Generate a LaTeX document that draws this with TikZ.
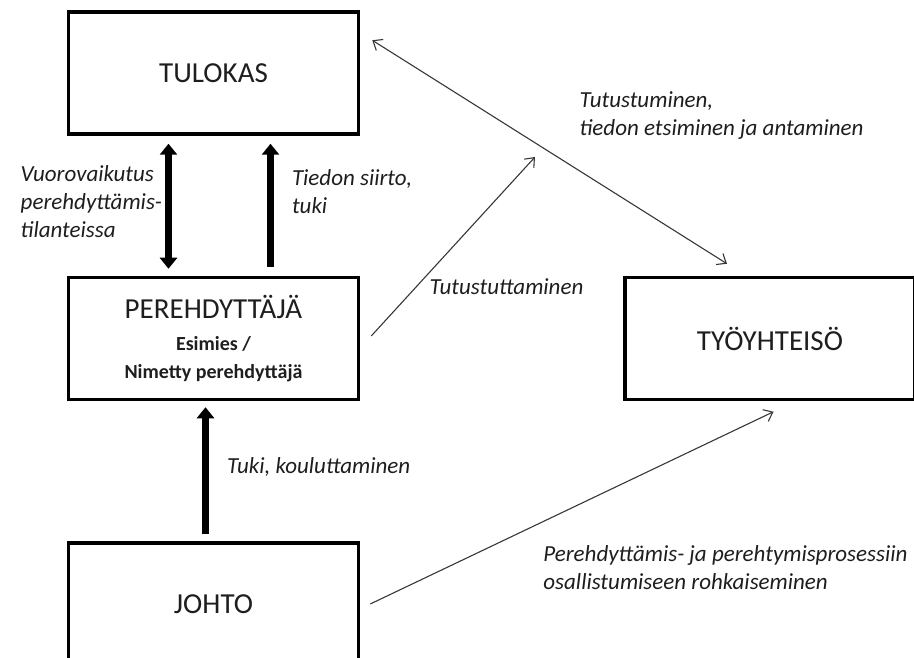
\documentclass[tikz,border=0pt]{standalone}
\usepackage{fontspec}
\setmainfont{Carlito}
\usepackage{xcolor}
\usepackage{tikz}
\usetikzlibrary{arrows.meta, positioning}
\definecolor{inkgray}{RGB}{30,30,30}
\definecolor{linegray}{RGB}{55,55,55}

\begin{document}
\begin{tikzpicture}[
	x=1pt, y=-1pt,
	node distance=140pt and 263pt,
	box/.style={rectangle, draw=black, line width=3.5pt, minimum width=290pt, minimum height=122pt, align=center, text=inkgray, font=\fontsize{29}{35}\selectfont},
	thickarrow/.style={->, >={Triangle[length=11pt, width=17pt]}, line width=7pt},
	thinarrow/.style={->, >={Straight Barb[length=8pt, width=13pt]}, line width=1.1pt, draw=linegray},
	note/.style={font=\fontsize{23}{28}\selectfont\itshape, align=left, text=inkgray, inner sep=0pt}
	]
	\useasboundingbox (0,0) rectangle (914,658);
	% Define nodes
	\node[box] (tulokas) at (213.5,73) {TULOKAS};
	\node[box, below=of tulokas, font=\bfseries\fontsize{20}{28}\selectfont] (pereh) {{\mdseries\fontsize{29}{30}\selectfont PEREHDYTTÄJÄ}\\[4pt]Esimies /\\Nimetty perehdyttäjä};
	\node[box, below=of pereh] (johto) {JOHTO};
	\node[box, right=of pereh] (tyo) {TYÖYHTEISÖ};
	\coordinate (meet) at (535,157);

	% Arrows
	\draw[thickarrow, <->] ([xshift=-45pt, yshift=-8pt]tulokas.south) -- ([xshift=-45pt, yshift=7pt]pereh.north) node[note, pos=0.46, anchor=east, xshift=-3pt] (vuoro) {Vuorovaikutus\\perehdyttämis-\\tilanteissa};
	\draw[thickarrow] ([xshift=57pt, yshift=9pt]pereh.north) -- ([xshift=57pt, yshift=-8pt]tulokas.south) node[note, pos=0.61, anchor=west, xshift=18pt] (tiedon) {Tiedon siirto,\\tuki};
	\draw[thickarrow] ([xshift=-8pt, yshift=7pt]johto.north) -- ([xshift=-8pt, yshift=-6pt]pereh.south) node[note, pos=0.53, anchor=west, xshift=18pt] (tuki) {Tuki, kouluttaminen};

	% Thin connectors
	\draw[thinarrow, <->] ([xshift=12pt, yshift=-30pt]tulokas.north east) -- ([xshift=-43pt, yshift=12pt]tyo.north) node[note, pos=0.335, anchor=west, xshift=88pt] (tutustuminen) {Tutustuminen,\\tiedon etsiminen ja antaminen};
	\draw[thinarrow] ([xshift=11pt, yshift=2.5pt]pereh.east) -- (meet) node[note, pos=0.273, anchor=west, xshift=13pt] (tutustuttaminen) {Tutustuttaminen};
	\draw[thinarrow] ([xshift=10pt]johto.east) -- ([xshift=3.5pt, yshift=-10.5pt]tyo.south) node[note, pos=0.19, anchor=west, xshift=96pt] (rohkaisu) {Perehdyttämis- ja perehtymisprosessiin\\osallistumiseen rohkaiseminen};
\end{tikzpicture}
\end{document}
